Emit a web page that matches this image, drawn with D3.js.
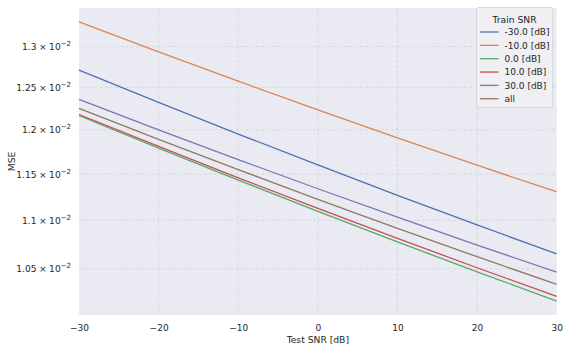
<!DOCTYPE html>
<html>
<head>
<meta charset="utf-8">
<script src="https://cdn.jsdelivr.net/npm/d3@7"></script>
<style>
  body { margin: 0; background: #fff; }
  svg { display: block; font-family: "DejaVu Sans", sans-serif; }
</style>
</head>
<body>
<div id="chart"></div>
<script>
// test SNR values (x) and MSE read for each training SNR
const testSnr = [-30, -20, -10, 0, 10, 20, 30];
const seriesNames = ['-30.0 [dB]', '-10.0 [dB]', '0.0 [dB]', '10.0 [dB]', '30.0 [dB]', 'all'];
const mseTrainM30 = [0.012709, 0.012320, 0.011952, 0.011602, 0.011269, 0.010952, 0.010652];
const mseTrainM10 = [0.013311, 0.012933, 0.012574, 0.012232, 0.011908, 0.011599, 0.011306];
const mseTrain0   = [0.012166, 0.011791, 0.011435, 0.011097, 0.010775, 0.010470, 0.010180];
const mseTrain10  = [0.012178, 0.011810, 0.011460, 0.011127, 0.010811, 0.010511, 0.010226];
const mseTrain30  = [0.012357, 0.012001, 0.011662, 0.011340, 0.011034, 0.010743, 0.010466];
const mseAll      = [0.012251, 0.011892, 0.011550, 0.011225, 0.010916, 0.010623, 0.010344];
const xTicks = [-30, -20, -10, 0, 10, 20, 30];
const yTicks = [0.0105, 0.011, 0.0115, 0.012, 0.0125, 0.013];

const colours = ['#4c72b0', '#dd8452', '#55a868', '#c44e52', '#8172b3', '#937860'];
const allSeries = [mseTrainM30, mseTrainM10, mseTrain0, mseTrain10, mseTrain30, mseAll];

const W = 570, H = 354;
const margin = {top: 8, right: 13.3, bottom: 39, left: 79};
const width = W - margin.left - margin.right;
const height = H - margin.top - margin.bottom;
const font = '"DejaVu Sans", sans-serif';

const svg = d3.select('#chart').append('svg')
    .attr('width', W)
    .attr('height', H);
const g = svg.append('g')
    .attr('transform', `translate(${margin.left}, ${margin.top})`);

// y limits padded by 5% in log space, like matplotlib
const flat = allSeries.flat();
const lmin = Math.log(d3.min(flat)), lmax = Math.log(d3.max(flat));
const pad = (lmax - lmin) * 0.05;

const x = d3.scaleLinear().domain([-30, 30]).range([0, width]);
const y = d3.scaleLog().domain([Math.exp(lmin - pad), Math.exp(lmax + pad)]).range([height, 0]);

g.append('rect')
  .attr('width', width)
  .attr('height', height)
  .attr('fill', '#eaeaf2');

// x axis + vertical grid
g.append('g')
  .attr('transform', `translate(0, ${height})`)
  .call(d3.axisBottom(x).tickValues(xTicks).tickSize(0).tickPadding(9.5)
    .tickFormat(d => (d < 0 ? '\u2212' + Math.abs(d) : d)))
  .attr('font-family', font)
  .call(ax => {
    ax.select('.domain').remove();
    ax.selectAll('.tick text').attr('font-size', '9px').attr('fill', '#262626');
  });

g.append('g')
  .selectAll('line')
  .data(xTicks.filter(d => d > -30 && d < 30))
  .enter().append('line')
    .attr('x1', d => x(d)).attr('x2', d => x(d))
    .attr('y1', 0).attr('y2', height)
    .attr('stroke', '#d3d3d9')
    .attr('stroke-width', 0.8)
    .attr('stroke-dasharray', '3,2.2');

// y axis + horizontal grid
g.append('g')
  .call(d3.axisLeft(y).tickValues(yTicks).tickSize(0).tickPadding(8).tickFormat(() => ''))
  .attr('font-family', font)
  .call(ax => {
    ax.select('.domain').remove();
    ax.selectAll('.tick text')
      .attr('font-size', '9.1px')
      .attr('fill', '#262626')
      .each(function (d) {
        const t = d3.select(this);
        t.append('tspan').text(`${+(d * 100).toFixed(2)}`);
        t.append('tspan').attr('dx', 2.5).text('\u00d7');
        t.append('tspan').attr('dx', 2.5).text('10');
        t.append('tspan').attr('dy', -4).attr('font-size', '7px').text('\u22122');
      });
  });

g.append('g')
  .selectAll('line')
  .data(yTicks)
  .enter().append('line')
    .attr('x1', 0).attr('x2', width)
    .attr('y1', d => y(d)).attr('y2', d => y(d))
    .attr('stroke', '#d3d3d9')
    .attr('stroke-width', 0.8)
    .attr('stroke-dasharray', '3,2.2');

// lines
const line = d3.line()
  .x((d, i) => x(testSnr[i]))
  .y(d => y(d))
  .curve(d3.curveMonotoneX);

g.selectAll('.series')
    .data(allSeries)
  .enter().append('path')
    .attr('class', 'series')
    .attr('d', line)
    .attr('fill', 'none')
    .attr('stroke', (d, i) => colours[i])
    .attr('stroke-width', 1.3);

// axis labels
svg.append('text')
  .attr('x', margin.left + width / 2)
  .attr('y', H - 11)
  .attr('text-anchor', 'middle')
  .attr('font-size', '9.2px')
  .attr('fill', '#262626')
  .text('Test SNR [dB]');

svg.append('text')
  .attr('transform', `translate(14.5, ${margin.top + height / 2}) rotate(-90)`)
  .attr('text-anchor', 'middle')
  .attr('font-size', '9.2px')
  .attr('fill', '#262626')
  .text('MSE');

// legend
const lg = svg.append('g').attr('transform', 'translate(476.5, 7.5)');
lg.append('rect')
  .attr('width', 76)
  .attr('height', 100)
  .attr('rx', 2.5)
  .attr('fill', '#efeff4')
  .attr('stroke', '#cfcfd4')
  .attr('stroke-width', 0.8);
lg.append('text')
  .attr('x', 38)
  .attr('y', 15)
  .attr('text-anchor', 'middle')
  .attr('font-size', '9.2px')
  .attr('fill', '#262626')
  .text('Train SNR');
seriesNames.forEach((name, i) => {
  const yy = 24.5 + i * 13.35;
  lg.append('line')
    .attr('x1', 3.5).attr('x2', 22)
    .attr('y1', yy).attr('y2', yy)
    .attr('stroke', colours[i])
    .attr('stroke-width', 1.3);
  lg.append('text')
    .attr('x', 28)
    .attr('y', yy + 3.3)
    .attr('font-size', '9px')
    .attr('fill', '#262626')
    .text(name);
});
</script>
</body>
</html>
